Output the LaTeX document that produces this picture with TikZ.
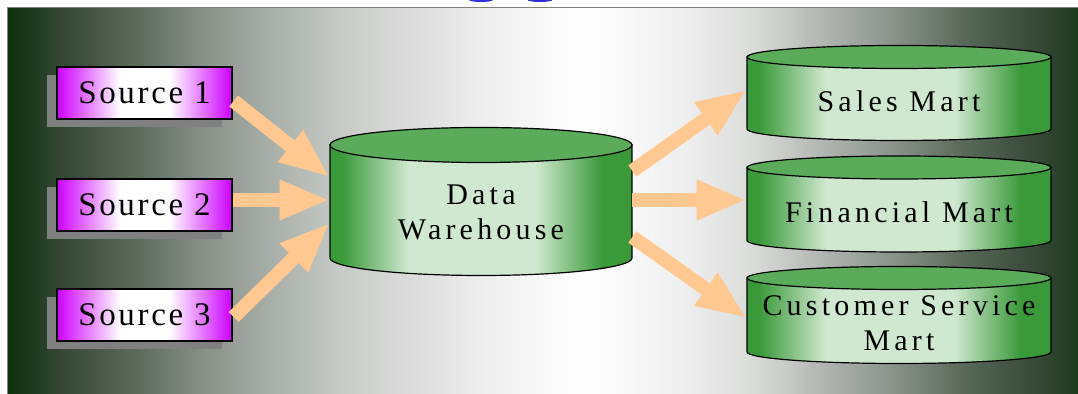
\documentclass[tikz,border=0pt]{standalone}
\usepackage{fontspec}
\setmainfont{Liberation Serif}
\newfontfamily\srcfont[LetterSpace=8]{Liberation Serif}
\newfontfamily\cylfont[LetterSpace=14]{Liberation Serif}
\usepackage{tikz}
\usetikzlibrary{arrows.meta, shadows}

\definecolor{bg0}{RGB}{12,48,12}
\definecolor{bg1}{RGB}{58,74,58}
\definecolor{bg2}{RGB}{92,106,92}
\definecolor{bg3}{RGB}{138,146,138}
\definecolor{bg4}{RGB}{170,176,170}
\definecolor{bg5}{RGB}{200,204,200}
\definecolor{bg6}{RGB}{220,220,220}
\definecolor{bg7}{RGB}{238,238,238}
\definecolor{bg8}{RGB}{216,218,216}
\definecolor{bg9}{RGB}{176,180,176}
\definecolor{bg10}{RGB}{90,106,90}
\definecolor{bgR}{RGB}{30,58,30}
\definecolor{srcpink}{RGB}{204,0,255}
\definecolor{cyldark}{RGB}{58,154,58}
\definecolor{cyllight}{RGB}{208,232,208}
\definecolor{cyltop}{RGB}{90,172,90}
\definecolor{flowpeach}{RGB}{255,200,145}
\definecolor{titleblue}{RGB}{50,50,220}

\pgfdeclarehorizontalshading{backdrop}{100bp}{color(0bp)=(bg0); color(25bp)=(bg0); color(27.85bp)=(bg1); color(31bp)=(bg2); color(34.25bp)=(bg3); color(37.5bp)=(bg4); color(40.7bp)=(bg5); color(43.9bp)=(bg6); color(47.1bp)=(bg7); color(51.9bp)=(white); color(56.7bp)=(bg7); color(60bp)=(bg8); color(63.2bp)=(bg9); color(66.4bp)=(bg3); color(69.6bp)=(bg10); color(72.8bp)=(bg1); color(75bp)=(bgR); color(100bp)=(bgR)}
\pgfdeclarehorizontalshading{cylside}{100bp}{color(0bp)=(cyldark); color(27bp)=(cyldark); color(38bp)=(cyllight); color(59bp)=(cyllight); color(70bp)=(cyldark); color(100bp)=(cyldark)}
\pgfdeclarehorizontalshading{srcside}{100bp}{color(0bp)=(srcpink); color(25bp)=(srcpink); color(43bp)=(white); color(57bp)=(white); color(75bp)=(srcpink); color(100bp)=(srcpink)}

% cylinder: centre x, top y, bottom y, x radius, y radius
\newcommand{\cylshape}[5]{%
  \shade[shading=cylside, draw=black, line width=0.6pt]
    (#1-#4,#2) -- (#1-#4,#3) arc[start angle=180, end angle=360, x radius=#4, y radius=#5] -- (#1+#4,#2) -- cycle;
  \filldraw[fill=cyltop, draw=black, line width=0.6pt] (#1,#2) ellipse [x radius=#4, y radius=#5];
}

\begin{document}
\begin{tikzpicture}[x=0.5pt, y=0.5pt,
  srcbox/.style={shade, shading=srcside, draw=black, line width=0.6pt, minimum width=87.5pt, minimum height=26pt, inner sep=0pt, font=\fontsize{16.5}{20}\srcfont, drop shadow={shadow xshift=-5pt, shadow yshift=-4pt, fill=gray, opacity=1}},
  cyltext/.style={align=center, inner sep=0pt, font=\fontsize{15}{17.5}\cylfont},
  flow/.style={draw=flowpeach, line width=7pt, -{Triangle[length=25pt, width=18.5pt]}}]
 \clip (0,0) rectangle (1078,394);

 % background
 \shade[shading=backdrop] (8,0) rectangle (1078,386);
 \fill[titleblue] (481,394) ellipse (12 and 2);
 \fill[titleblue] (540,394) ellipse (12.5 and 2);
 \draw[gray, line width=0.8pt] (7.5,0) |- (1078,386.5);

 % sources
 \node[srcbox] (src1) at (144.5,301) {Source 1};
 \node[srcbox] (src2) at (144.5,189) {Source 2};
 \node[srcbox] (src3) at (144.5,79) {Source 3};

 % warehouse and marts
 \cylshape{481}{249}{136}{151}{17.5}
 \cylshape{899}{337}{265}{152}{11.5}
 \cylshape{899}{226.5}{153.5}{152}{11.5}
 \cylshape{899}{116}{42}{152}{11.5}
 \node[cyltext, minimum width=151pt] (dw) at (481,181.5) {Data\\Warehouse};
 \node[cyltext, minimum width=152pt] (sales) at (899,293) {Sales Mart};
 \node[cyltext, minimum width=152pt] (fin) at (899,182) {Financial Mart};
 \node[cyltext, minimum width=152pt] (cust) at (899,70.5) {Customer Service\\Mart};

 % flows
 \draw[flow] ([shift={(0.5pt,-4pt)}]src1.east) -- ([yshift=17.75pt]dw.west);
 \draw[flow] ([yshift=2.5pt]src2.east) -- ([yshift=6.25pt]dw.west);
 \draw[flow] ([shift={(0.5pt,-1pt)}]src3.east) -- ([yshift=-5.25pt]dw.west);
 \draw[flow] ([yshift=20.75pt]dw.east) -- ([yshift=5.5pt]sales.west);
 \draw[flow] ([yshift=6.25pt]dw.east) -- ([yshift=6pt]fin.west);
 \draw[flow] ([yshift=-12.25pt]dw.east) -- ([yshift=2.75pt]cust.west);
\end{tikzpicture}
\end{document}
